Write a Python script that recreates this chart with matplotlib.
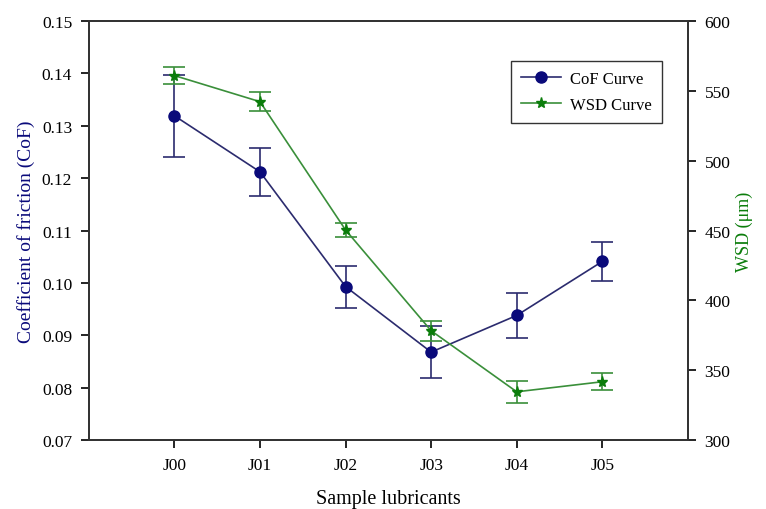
import numpy as np
import matplotlib.pyplot as plt
from matplotlib.lines import Line2D

plt.rcParams['font.family'] = ['Liberation Serif', 'DejaVu Serif']

samples = ['J00', 'J01', 'J02', 'J03', 'J04', 'J05']
cof = [0.1319, 0.1212, 0.0993, 0.0868, 0.0938, 0.1041]
cof_err = [0.0078, 0.0046, 0.0040, 0.0049, 0.0043, 0.0038]
wsd = [560.9, 542.2, 450.4, 378.3, 334.6, 341.8]
wsd_err = [6.0, 6.7, 5.0, 7.0, 8.0, 6.0]

navy = '#0a0a7a'
navy_line = '#2b2b6e'
green = '#0b7d0b'
green_line = '#3a8f3a'

fig = plt.figure(figsize=(7.66, 5.10), dpi=100)
ax = fig.add_axes([0.116, 0.135, 0.782, 0.822])
x = np.arange(len(samples))

ax.errorbar(x, cof, yerr=cof_err, color=navy_line, marker='o', markersize=8,
            markerfacecolor=navy, markeredgecolor=navy, capsize=8, capthick=1.2,
            elinewidth=1.2, linewidth=1.2)
ax.set_xlim(-1, 6)
ax.set_ylim(0.07, 0.15)
ticks = np.arange(0.07, 0.1501, 0.01)
ax.set_yticks(ticks)
ax.set_yticklabels(['%.2f' % v for v in ticks])
ax.set_xticks(x)
ax.set_xticklabels(samples)
ax.set_ylabel('Coefficient of friction (CoF)', color=navy, fontsize=14, labelpad=5)
ax.set_xlabel('Sample lubricants', fontsize=14.5, labelpad=12)

ax2 = ax.twinx()
ax2.errorbar(x, wsd, yerr=wsd_err, color=green_line, marker='*', markersize=8,
             markerfacecolor=green, markeredgecolor=green, capsize=8, capthick=1.2,
             elinewidth=1.2, linewidth=1.2)
ax2.set_ylim(300, 600)
ax2.set_yticks(range(300, 601, 50))
ax2.set_ylabel('WSD (\u03bcm)', color=green, fontsize=13, labelpad=4)

for a in (ax, ax2):
    a.tick_params(direction='out', length=6, width=1.2, labelsize=12.5, pad=6)
    for s in a.spines.values():
        s.set_linewidth(1.3)
        s.set_color('#333333')

handles = [Line2D([], [], color=navy_line, marker='o', markersize=8,
                  markerfacecolor=navy, markeredgecolor=navy, linewidth=1.2),
           Line2D([], [], color=green_line, marker='*', markersize=8,
                  markerfacecolor=green, markeredgecolor=green, linewidth=1.2)]
leg = ax.legend(handles, ['CoF Curve', 'WSD Curve'], loc='upper right',
                bbox_to_anchor=(0.957, 0.905), fontsize=12, fancybox=False,
                edgecolor='#333333', framealpha=1, handlelength=2.4,
                handletextpad=0.55, borderpad=0.6, labelspacing=0.6,
                borderaxespad=0)
leg.get_frame().set_linewidth(1.0)

fig.savefig('out.png', dpi=100)
